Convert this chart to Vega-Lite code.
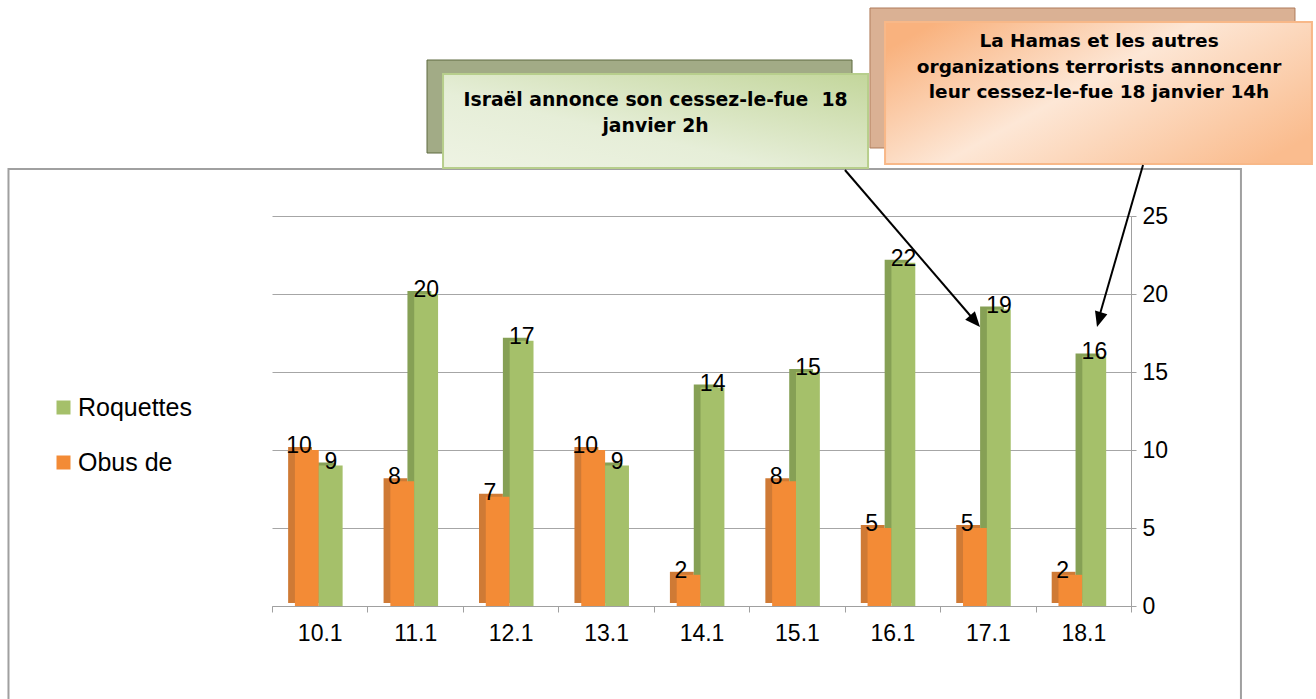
{
  "$schema": "https://vega.github.io/schema/vega-lite/v6.json",
  "width": 859,
  "height": 390,
  "autosize": {"type": "none"},
  "padding": {"left": 272, "top": 216, "right": 185, "bottom": 93},
  "background": "white",
  "config": {"view": {"stroke": null}, "font": "Liberation Sans"},
  "data": {
    "values": [
      {"day": "10.1", "series": "Obus de", "value": 10},
      {"day": "10.1", "series": "Roquettes", "value": 9},
      {"day": "11.1", "series": "Obus de", "value": 8},
      {"day": "11.1", "series": "Roquettes", "value": 20},
      {"day": "12.1", "series": "Obus de", "value": 7},
      {"day": "12.1", "series": "Roquettes", "value": 17},
      {"day": "13.1", "series": "Obus de", "value": 10},
      {"day": "13.1", "series": "Roquettes", "value": 9},
      {"day": "14.1", "series": "Obus de", "value": 2},
      {"day": "14.1", "series": "Roquettes", "value": 14},
      {"day": "15.1", "series": "Obus de", "value": 8},
      {"day": "15.1", "series": "Roquettes", "value": 15},
      {"day": "16.1", "series": "Obus de", "value": 5},
      {"day": "16.1", "series": "Roquettes", "value": 22},
      {"day": "17.1", "series": "Obus de", "value": 5},
      {"day": "17.1", "series": "Roquettes", "value": 19},
      {"day": "18.1", "series": "Obus de", "value": 2},
      {"day": "18.1", "series": "Roquettes", "value": 16}
    ]
  },
  "layer": [
    {
      "data": {"values": [{}]},
      "mark": {"type": "rect", "fill": "transparent", "stroke": "#A0A0A0", "strokeWidth": 2},
      "encoding": {
        "x": {"datum": -2.761, "type": "quantitative", "scale": {"domain": [0, 9], "nice": false, "zero": false}, "axis": null},
        "x2": {"datum": 10.152},
        "y": {"datum": 28.013, "type": "quantitative", "scale": {"domain": [0, 25], "nice": false}, "axis": null},
        "y2": {"datum": -6.667}
      }
    },
    {
      "data": {"values": [{}]},
      "mark": {"type": "rect", "fill": "#DAB194", "stroke": "#AE7B5B", "strokeWidth": 1},
      "encoding": {
        "x": {"datum": 6.265, "type": "quantitative", "scale": {"domain": [0, 9], "nice": false, "zero": false}, "axis": null},
        "x2": {"datum": 10.718},
        "y": {"datum": 38.333, "type": "quantitative", "scale": {"domain": [0, 25], "nice": false}, "axis": null},
        "y2": {"datum": 29.359}
      }
    },
    {
      "data": {"values": [{}]},
      "mark": {"type": "rect", "fill": "#A2AB86", "stroke": "#5E6A40", "strokeWidth": 1},
      "encoding": {
        "x": {"datum": 1.624, "type": "quantitative", "scale": {"domain": [0, 9], "nice": false, "zero": false}, "axis": null},
        "x2": {"datum": 6.077},
        "y": {"datum": 35.0, "type": "quantitative", "scale": {"domain": [0, 25], "nice": false}, "axis": null},
        "y2": {"datum": 29.038}
      }
    },
    {
      "data": {"values": [{}]},
      "mark": {
        "type": "rect",
        "stroke": "#B7CE8C",
        "strokeWidth": 2,
        "fill": {"gradient": "linear", "x1": 1, "y1": 0, "x2": 0, "y2": 1, "stops": [{"offset": 0, "color": "#C3D69B"}, {"offset": 0.6, "color": "#E6EED8"}, {"offset": 1, "color": "#EEF3E3"}]}
      },
      "encoding": {
        "x": {"datum": 1.792, "type": "quantitative", "scale": {"domain": [0, 9], "nice": false, "zero": false}, "axis": null},
        "x2": {"datum": 6.245},
        "y": {"datum": 34.103, "type": "quantitative", "scale": {"domain": [0, 25], "nice": false}, "axis": null},
        "y2": {"datum": 28.077}
      }
    },
    {
      "data": {"values": [{}]},
      "mark": {
        "type": "rect",
        "stroke": "#F8B888",
        "strokeWidth": 2,
        "fill": {"gradient": "linear", "x1": 0, "y1": 0.2, "x2": 1, "y2": 0.8, "stops": [{"offset": 0, "color": "#F9B27E"}, {"offset": 0.45, "color": "#FDE7D6"}, {"offset": 1, "color": "#FABC8E"}]}
      },
      "encoding": {
        "x": {"datum": 6.423, "type": "quantitative", "scale": {"domain": [0, 9], "nice": false, "zero": false}, "axis": null},
        "x2": {"datum": 10.896},
        "y": {"datum": 37.436, "type": "quantitative", "scale": {"domain": [0, 25], "nice": false}, "axis": null},
        "y2": {"datum": 28.333}
      }
    },
    {
      "data": {"values": [{}]},
      "mark": {"type": "text", "text": ["Israël annonce son cessez-le-fue\u00a0 18", "janvier 2h"], "font": "DejaVu Sans", "fontWeight": "bold", "fontSize": 18.8, "lineHeight": 26, "align": "center", "baseline": "alphabetic", "color": "black"},
      "encoding": {
        "x": {"datum": 4.018, "type": "quantitative", "scale": {"domain": [0, 9], "nice": false, "zero": false}, "axis": null},
        "y": {"datum": 32.051, "type": "quantitative", "scale": {"domain": [0, 25], "nice": false}, "axis": null}
      }
    },
    {
      "data": {"values": [{}]},
      "mark": {"type": "text", "text": ["La Hamas et les autres", "organizations terrorists annoncenr", "leur cessez-le-fue 18 janvier 14h"], "font": "DejaVu Sans", "fontWeight": "bold", "fontSize": 18.5, "lineHeight": 25.5, "align": "center", "baseline": "alphabetic", "color": "black"},
      "encoding": {
        "x": {"datum": 8.665, "type": "quantitative", "scale": {"domain": [0, 9], "nice": false, "zero": false}, "axis": null},
        "y": {"datum": 35.833, "type": "quantitative", "scale": {"domain": [0, 25], "nice": false}, "axis": null}
      }
    },
    {
      "layer": [
        {
          "mark": {"type": "bar", "yOffset": -3},
          "encoding": {
            "x": {"field": "day", "type": "nominal", "sort": null, "scale": {"paddingInner": 0, "paddingOuter": 0}, "axis": null},
            "xOffset": {"field": "series", "type": "nominal", "scale": {"domain": ["Obus de", "Roquettes"], "paddingInner": 0, "paddingOuter": 1.074, "align": 0.338}},
            "y": {"field": "value", "type": "quantitative", "scale": {"domain": [0, 25], "nice": false}, "axis": null},
            "fill": {"field": "series", "type": "nominal", "scale": {"domain": ["Obus de", "Roquettes"], "range": ["#CF7A35", "#86A055"]}, "legend": null}
          }
        },
        {
          "mark": {"type": "bar"},
          "encoding": {
            "x": {
              "field": "day", "type": "nominal", "sort": null,
              "scale": {"paddingInner": 0, "paddingOuter": 0},
              "axis": {"orient": "bottom", "title": null, "tickBand": "extent", "tickSize": 6, "tickColor": "#A0A0A0", "domainColor": "#A0A0A0", "labelFontSize": 23, "labelFont": "Liberation Sans", "labelColor": "black", "labelPadding": 10, "labelAngle": 0}
            },
            "xOffset": {"field": "series", "type": "nominal", "scale": {"domain": ["Obus de", "Roquettes"], "paddingInner": 0, "paddingOuter": 1.074, "align": 0.48}},
            "y": {
              "field": "value", "type": "quantitative",
              "scale": {"domain": [0, 25], "nice": false},
              "axis": {"orient": "right", "title": null, "values": [0, 5, 10, 15, 20, 25], "grid": true, "gridColor": "#A6A6A6", "tickSize": 5, "tickColor": "#A0A0A0", "domainColor": "#A0A0A0", "labelFontSize": 23, "labelFont": "Liberation Sans", "labelColor": "black", "labelPadding": 6}
            },
            "color": {
              "field": "series", "type": "nominal",
              "scale": {"domain": ["Roquettes", "Obus de"], "range": ["#A5C06A", "#F38B36"]},
              "legend": {"orient": "none", "legendX": -221, "legendY": 179, "title": null, "symbolType": "square", "symbolSize": 196, "symbolStrokeWidth": 0, "labelFontSize": 25, "labelFont": "Liberation Sans", "labelColor": "black", "labelOffset": 2, "rowPadding": 29, "padding": 0}
            }
          }
        },
        {
          "mark": {"type": "text", "fontSize": 23, "font": "Liberation Sans", "baseline": "alphabetic", "align": "center", "dx": -3.5, "dy": 3, "color": "black"},
          "encoding": {
            "x": {"field": "day", "type": "nominal", "sort": null, "scale": {"paddingInner": 0, "paddingOuter": 0}, "axis": null},
            "xOffset": {"field": "series", "type": "nominal", "scale": {"domain": ["Obus de", "Roquettes"], "paddingInner": 0, "paddingOuter": 1.074, "align": 0.48}},
            "y": {"field": "value", "type": "quantitative", "scale": {"domain": [0, 25], "nice": false}, "axis": null},
            "text": {"field": "value", "type": "quantitative"}
          }
        }
      ],
      "resolve": {"scale": {"xOffset": "independent"}, "axis": {"x": "independent", "y": "independent"}}
    },
    {
      "data": {"values": [{}]},
      "mark": {"type": "rule", "color": "black", "strokeWidth": 2},
      "encoding": {
        "x": {"datum": 6.003, "type": "quantitative", "scale": {"domain": [0, 9], "nice": false, "zero": false}, "axis": null},
        "x2": {"datum": 7.36},
        "y": {"datum": 27.949, "type": "quantitative", "scale": {"domain": [0, 25], "nice": false}, "axis": null},
        "y2": {"datum": 18.3}
      }
    },
    {
      "data": {"values": [{}]},
      "mark": {"type": "point", "shape": "M0,0L-0.8,1.9L0.8,1.9Z", "size": 256, "filled": true, "color": "black", "opacity": 1, "angle": 139.1},
      "encoding": {
        "x": {"datum": 7.418, "type": "quantitative", "scale": {"domain": [0, 9], "nice": false, "zero": false}, "axis": null},
        "y": {"datum": 17.885, "type": "quantitative", "scale": {"domain": [0, 25], "nice": false}, "axis": null}
      }
    },
    {
      "data": {"values": [{}]},
      "mark": {"type": "rule", "color": "black", "strokeWidth": 2},
      "encoding": {
        "x": {"datum": 9.126, "type": "quantitative", "scale": {"domain": [0, 9], "nice": false, "zero": false}, "axis": null},
        "x2": {"datum": 8.66},
        "y": {"datum": 28.269, "type": "quantitative", "scale": {"domain": [0, 25], "nice": false}, "axis": null},
        "y2": {"datum": 18.4}
      }
    },
    {
      "data": {"values": [{}]},
      "mark": {"type": "point", "shape": "M0,0L-0.8,1.9L0.8,1.9Z", "size": 256, "filled": true, "color": "black", "opacity": 1, "angle": 195.9},
      "encoding": {
        "x": {"datum": 8.644, "type": "quantitative", "scale": {"domain": [0, 9], "nice": false, "zero": false}, "axis": null},
        "y": {"datum": 17.885, "type": "quantitative", "scale": {"domain": [0, 25], "nice": false}, "axis": null}
      }
    }
  ],
  "resolve": {"scale": {"x": "independent"}, "axis": {"x": "independent", "y": "independent"}}
}
